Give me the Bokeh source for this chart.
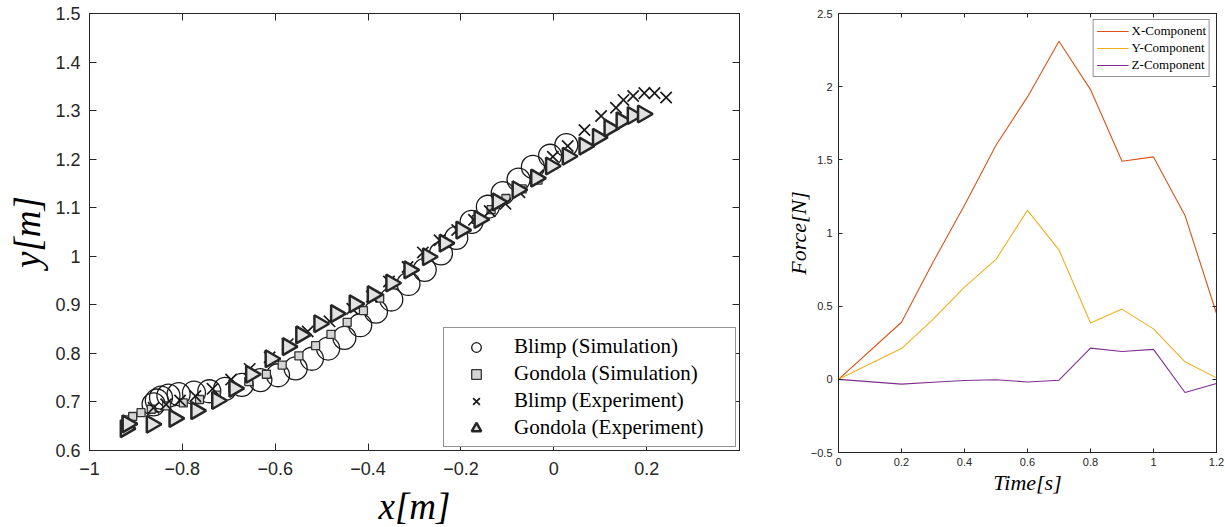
import math
from bokeh.plotting import figure
from bokeh.layouts import row
from bokeh.models import (LinearAxis, FixedTicker, Legend, LegendItem, Range1d,
                          CustomLabelingPolicy, ColumnDataSource)
from bokeh.embed import file_html
from bokeh.resources import INLINE

# ---------------- Left chart: trajectories ----------------
blimp_sim_x = [-0.862, -0.855, -0.846, -0.830, -0.808, -0.775, -0.742, -0.708, -0.672, -0.632,
               -0.594, -0.556, -0.521, -0.486, -0.451, -0.417, -0.383, -0.350, -0.313, -0.278,
               -0.243, -0.210, -0.177, -0.142, -0.110, -0.076, -0.045, -0.008, 0.027]
blimp_sim_y = [0.695, 0.703, 0.709, 0.713, 0.716, 0.719, 0.722, 0.727, 0.735, 0.745,
               0.755, 0.769, 0.789, 0.810, 0.832, 0.858, 0.886, 0.911, 0.943, 0.972,
               1.006, 1.038, 1.071, 1.102, 1.130, 1.158, 1.184, 1.207, 1.229]

gondola_sim_x = [-0.921, -0.907, -0.889, -0.867, -0.834, -0.798, -0.763, -0.727, -0.691, -0.657,
                 -0.619, -0.585, -0.549, -0.513, -0.480, -0.445, -0.410, -0.375, -0.345, -0.311,
                 -0.275, -0.239, -0.203, -0.167, -0.135, -0.103, -0.068, -0.034]
gondola_sim_y = [0.663, 0.670, 0.678, 0.685, 0.692, 0.698, 0.705, 0.714, 0.728, 0.742,
                 0.757, 0.776, 0.795, 0.816, 0.839, 0.864, 0.888, 0.914, 0.941, 0.971,
                 0.999, 1.030, 1.055, 1.076, 1.096, 1.119, 1.139, 1.157]

blimp_exp_x = [-0.862, -0.835, -0.805, -0.772, -0.735, -0.695, -0.655, -0.612, -0.573, -0.530,
               -0.483, -0.434, -0.392, -0.355, -0.315, -0.282, -0.246, -0.208, -0.172, -0.138,
               -0.104, -0.074, -0.034, -0.002, 0.030, 0.066, 0.102, 0.134, 0.150, 0.171,
               0.195, 0.217, 0.242]
blimp_exp_y = [0.688, 0.695, 0.703, 0.712, 0.727, 0.746, 0.768, 0.792, 0.819, 0.845,
               0.866, 0.892, 0.917, 0.948, 0.978, 1.008, 1.033, 1.054, 1.075, 1.093,
               1.108, 1.132, 1.167, 1.205, 1.227, 1.260, 1.289, 1.306, 1.322, 1.330,
               1.336, 1.336, 1.327]

gondola_exp_x = [-0.922, -0.918, -0.866, -0.817, -0.770, -0.725, -0.688, -0.652, -0.610, -0.573,
                 -0.544, -0.505, -0.469, -0.429, -0.390, -0.350, -0.311, -0.271, -0.235, -0.199,
                 -0.160, -0.121, -0.078, -0.038, -0.006, 0.030, 0.066, 0.095, 0.120, 0.146,
                 0.170, 0.192]
gondola_exp_y = [0.645, 0.655, 0.654, 0.666, 0.682, 0.703, 0.728, 0.757, 0.789, 0.814,
                 0.838, 0.861, 0.882, 0.902, 0.921, 0.945, 0.972, 0.999, 1.027, 1.054,
                 1.076, 1.112, 1.137, 1.161, 1.186, 1.206, 1.227, 1.245, 1.264, 1.279,
                 1.290, 1.293]

left_xticks = [-1, -0.8, -0.6, -0.4, -0.2, 0, 0.2]
left_yticks = [0.6, 0.7, 0.8, 0.9, 1.0, 1.1, 1.2, 1.3, 1.4, 1.5]
left_labels = ["Blimp (Simulation)", "Gondola (Simulation)", "Blimp (Experiment)", "Gondola (Experiment)"]

# ---------------- Right chart: force components ----------------
time_s = [0, 0.2, 0.3, 0.4, 0.5, 0.6, 0.7, 0.8, 0.9, 1.0, 1.1, 1.2]
force_x = [0, 0.39, 0.80, 1.19, 1.60, 1.93, 2.31, 1.98, 1.49, 1.52, 1.12, 0.45]
force_y = [0, 0.21, 0.41, 0.63, 0.82, 1.155, 0.885, 0.385, 0.48, 0.345, 0.12, 0.01]
force_z = [0, -0.033, -0.02, -0.008, -0.003, -0.018, -0.006, 0.213, 0.19, 0.205, -0.09, -0.028]
right_xticks = [0, 0.2, 0.4, 0.6, 0.8, 1.0, 1.2]
right_yticks = [-0.5, 0, 0.5, 1.0, 1.5, 2.0, 2.5]
right_labels = ["X-Component", "Y-Component", "Z-Component"]
right_colors = ["#D95319", "#EDB120", "#7E2F8E"]

AX = "#262626"
SERIF = "Liberation Serif"
SANS = "Liberation Sans"

NO_LABELS = "const ids = [...indices]; for (const i of ids) indices.unset(i); return indices"


def style_axes(p, xt, yt, font_size, tick_len):
    xa = p.below[0]
    ya = p.left[0]
    xa.ticker = FixedTicker(ticks=xt)
    ya.ticker = FixedTicker(ticks=yt)
    for ax in [xa, ya]:
        ax.major_tick_in = tick_len
        ax.major_tick_out = 0
        ax.minor_tick_in = 0
        ax.minor_tick_out = 0
        ax.axis_line_color = AX
        ax.major_tick_line_color = AX
        ax.major_label_text_color = AX
        ax.major_label_text_font = SANS
        ax.major_label_text_font_size = font_size
        ax.axis_label_text_font = SERIF
        ax.axis_label_text_font_style = "italic"
        ax.axis_label_text_color = "black"
    for side, t in [("right", yt), ("above", xt)]:
        a = LinearAxis(ticker=FixedTicker(ticks=t),
                       major_label_policy=CustomLabelingPolicy(code=NO_LABELS),
                       major_label_standoff=0, major_tick_in=tick_len, major_tick_out=0,
                       minor_tick_in=0, minor_tick_out=0, axis_line_color=AX,
                       major_tick_line_color=AX)
        p.add_layout(a, side)
    p.grid.visible = False
    p.outline_line_color = AX
    p.background_fill_color = "white"
    p.border_fill_color = "white"
    return xa, ya


# Left figure
p1 = figure(frame_width=650, frame_height=437, x_range=Range1d(-1, 0.4), y_range=Range1d(0.6, 1.5),
            output_backend="svg", toolbar_location=None,
            min_border_left=89, min_border_right=25, min_border_top=13, min_border_bottom=58)
xa1, ya1 = style_axes(p1, left_xticks, left_yticks, "18px", 7)
xa1.axis_label = "x[m]"
ya1.axis_label = "y[m]"
xa1.axis_label_text_font_size = "37px"
ya1.axis_label_text_font_size = "37px"
xa1.major_label_standoff = 11
ya1.major_label_standoff = 9
xa1.axis_label_standoff = 8
ya1.axis_label_standoff = 4

r_c = p1.scatter(blimp_sim_x, blimp_sim_y, marker="circle", size=23, fill_color=None,
                 line_color="#1a1a1a", line_width=1.3)
r_s = p1.scatter(gondola_sim_x, gondola_sim_y, marker="square", size=8, fill_color="#d6d6d6",
                 line_color="#333333", line_width=1.3)
r_x = p1.scatter(blimp_exp_x, blimp_exp_y, marker="x", size=16, line_color="#1a1a1a", line_width=1.7)
tri_src = ColumnDataSource(dict(x=gondola_exp_x, y=gondola_exp_y,
                                a=[-math.pi / 2] * len(gondola_exp_x)))
r_t = p1.scatter("x", "y", source=tri_src, marker="triangle", size=17, angle="a",
                 fill_color="#e2e2e2", line_color="#262626", line_width=2.5)

items1 = [LegendItem(label=l, renderers=[r]) for l, r in zip(left_labels[:3], [r_c, r_s, r_x])]
items1.append(LegendItem(label=left_labels[3], renderers=[r_t], index=0))
leg1 = Legend(items=items1,
              location="bottom_right", margin=3, padding=6, spacing=2,
              label_text_font=SERIF, label_text_font_size="21px", label_text_color="black",
              label_height=24, glyph_height=24, glyph_width=52, label_standoff=12,
              label_width=215,
              border_line_color=AX, border_line_width=1, background_fill_alpha=1)
p1.add_layout(leg1)

# Right figure
p2 = figure(frame_width=378, frame_height=439, x_range=Range1d(0, 1.2), y_range=Range1d(-0.5, 2.5),
            output_backend="svg", toolbar_location=None,
            min_border_left=74, min_border_right=6, min_border_top=11, min_border_bottom=58)
xa2, ya2 = style_axes(p2, right_xticks, right_yticks, "11px", 4)
xa2.axis_label = "Time[s]"
ya2.axis_label = "Force[N]"
xa2.axis_label_text_font_size = "22px"
ya2.axis_label_text_font_size = "22px"
xa2.major_label_standoff = 5
ya2.major_label_standoff = 6
xa2.axis_label_standoff = 1
ya2.axis_label_standoff = -3

rl = []
for ys, c in zip([force_x, force_y, force_z], right_colors):
    rl.append(p2.line(time_s, ys, line_color=c, line_width=1.1))

leg2 = Legend(items=[LegendItem(label=l, renderers=[r]) for l, r in zip(right_labels, rl)],
              location="top_right", margin=6, padding=3, spacing=1,
              label_text_font=SERIF, label_text_font_size="13px", label_text_color="black",
              label_height=12, glyph_height=12, glyph_width=32, label_standoff=3,
              border_line_color=AX, border_line_width=1, background_fill_alpha=1)
p2.add_layout(leg2)

layout = row(p1, p2)
open("out.html", "w").write(file_html(layout, INLINE))
